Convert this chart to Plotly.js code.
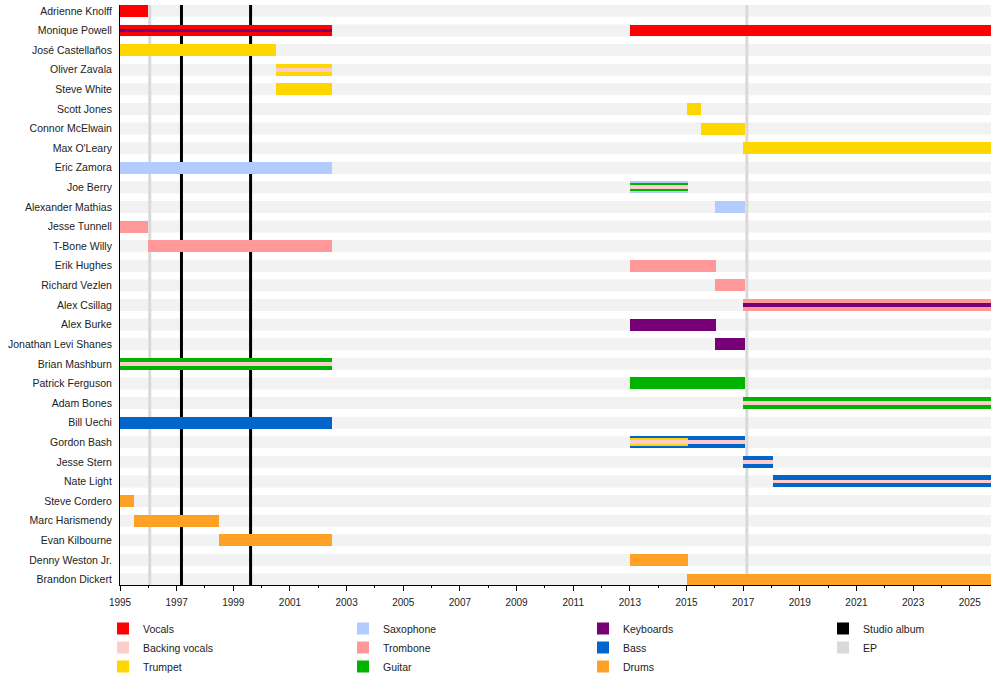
<!DOCTYPE html>
<html>
<head>
<meta charset="utf-8">
<script src="https://cdn.plot.ly/plotly-3.0.1.min.js"></script>
<style>
  html, body { margin: 0; padding: 0; background: #fff; }
  #chart { width: 1000px; height: 675px; }
</style>
</head>
<body>
<div id="chart"></div>
<script>
// band members, top to bottom
const members = ["Adrienne Knolff", "Monique Powell", "José Castellaños", "Oliver Zavala", "Steve White",
    "Scott Jones", "Connor McElwain", "Max O'Leary", "Eric Zamora", "Joe Berry", "Alexander Mathias",
    "Jesse Tunnell", "T-Bone Willy", "Erik Hughes", "Richard Vezlen", "Alex Csillag", "Alex Burke",
    "Jonathan Levi Shanes", "Brian Mashburn", "Patrick Ferguson", "Adam Bones", "Bill Uechi", "Gordon Bash",
    "Jesse Stern", "Nate Light", "Steve Cordero", "Marc Harismendy", "Evan Kilbourne", "Denny Weston Jr.",
    "Brandon Dickert"];

const roles = ["Vocals", "Backing vocals", "Trumpet", "Saxophone", "Trombone", "Guitar", "Keyboards", "Bass", "Drums"];
const roleColors = ["#ff0000", "#ffcccc", "#ffd700", "#b3ccff", "#ff9999", "#00b300", "#770077", "#0066cc", "#ffa126"];

const today = 2025.75;

// one entry per stint: who, from, to, roles (main role first)
const periodMember = ["Adrienne Knolff", "Monique Powell", "Monique Powell", "José Castellaños", "Oliver Zavala",
    "Steve White", "Scott Jones", "Connor McElwain", "Max O'Leary", "Eric Zamora", "Joe Berry", "Alexander Mathias",
    "Jesse Tunnell", "T-Bone Willy", "Erik Hughes", "Richard Vezlen", "Alex Csillag", "Alex Burke",
    "Jonathan Levi Shanes", "Brian Mashburn", "Patrick Ferguson", "Adam Bones", "Bill Uechi", "Gordon Bash",
    "Gordon Bash", "Jesse Stern", "Nate Light", "Steve Cordero", "Marc Harismendy", "Evan Kilbourne",
    "Denny Weston Jr.", "Brandon Dickert"];
const periodStart = [1995, 1995, 2013, 1995, 2000.5,
    2000.5, 2015, 2015.5, 2017, 1995, 2013, 2016,
    1995, 1996, 2013, 2016, 2017, 2013,
    2016, 1995, 2013, 2017, 1995, 2013,
    2015, 2017, 2018.05, 1995, 1995.5, 1998.5,
    2013, 2015];
const periodEnd = [1996, 2002.5, today, 2000.5, 2002.5,
    2002.5, 2015.5, 2017.05, today, 2002.5, 2015.05, 2017.05,
    1996, 2002.5, 2016.05, 2017.05, today, 2016.05,
    2017.05, 2002.5, 2017.05, today, 2002.5, 2015.05,
    2017.05, 2018.05, today, 1995.5, 1998.5, 2002.5,
    2015.05, today];
const periodRoles = [["Vocals"], ["Vocals", "Keyboards"], ["Vocals"], ["Trumpet"], ["Trumpet", "Backing vocals"],
    ["Trumpet"], ["Trumpet"], ["Trumpet"], ["Trumpet"], ["Saxophone"], ["Saxophone", "Guitar", "Backing vocals"], ["Saxophone"],
    ["Trombone"], ["Trombone"], ["Trombone"], ["Trombone"], ["Trombone", "Keyboards"], ["Keyboards"],
    ["Keyboards"], ["Guitar", "Backing vocals"], ["Guitar"], ["Guitar", "Backing vocals"], ["Bass"], ["Bass", "Trumpet", "Backing vocals"],
    ["Bass", "Backing vocals"], ["Bass", "Backing vocals"], ["Bass", "Backing vocals"], ["Drums"], ["Drums"], ["Drums"],
    ["Drums"], ["Drums"]];

// releases
const studioAlbums = [1997.17, 1999.61];
const eps = [1996.05, 2017.13];

// main role full bar, last extra role thin stripe, middle role in between
const layerWidth = [0.61, 0.41, 0.2];
function layerOf(i, n) {
    if (i == 0) return 0;
    if (i == n - 1) return 2;
    return 1;
}

let traces = [];
for (let layer = 0; layer < 3; layer++) {
    roles.forEach(function (role, r) {
        let ys = [], xs = [], bases = [];
        for (let p = 0; p < periodMember.length; p++) {
            let k = periodRoles[p].indexOf(role);
            if (k < 0 || layerOf(k, periodRoles[p].length) != layer) continue;
            ys.push(periodMember[p]);
            bases.push(periodStart[p]);
            xs.push(periodEnd[p] - periodStart[p]);
        }
        if (ys.length) {
            traces.push({
                type: 'bar', orientation: 'h', y: ys, x: xs, base: bases,
                width: layerWidth[layer],
                marker: {color: roleColors[r], line: {width: 0}},
                showlegend: false, hoverinfo: 'skip'
            });
        }
    });
}

// legend entries, three per column
const legendIds = ['legend', 'legend2', 'legend3', 'legend4'];
roles.forEach(function (role, r) {
    traces.push({
        type: 'bar', orientation: 'h', x: [null], y: [null], name: role,
        marker: {color: roleColors[r], line: {width: 0}},
        legend: legendIds[Math.floor(r / 3)], showlegend: true, hoverinfo: 'skip'
    });
});
[["Studio album", "#000000"], ["EP", "#d9d9d9"]].forEach(function (e) {
    traces.push({
        type: 'bar', orientation: 'h', x: [null], y: [null], name: e[0],
        marker: {color: e[1], line: {width: 0}},
        legend: 'legend4', showlegend: true, hoverinfo: 'skip'
    });
});

// grey row stripes, then release lines, all under the bars
let shapes = [];
members.forEach(function (m, i) {
    shapes.push({type: 'rect', layer: 'below', xref: 'paper', yref: 'y', x0: 0, x1: 1,
        y0: i - 0.305, y1: i + 0.305, fillcolor: '#f2f2f2', line: {width: 0}});
});
eps.forEach(function (t) {
    shapes.push({type: 'line', layer: 'below', xref: 'x', yref: 'paper', x0: t, x1: t, y0: 0, y1: 1,
        line: {color: '#d9d9d9', width: 3}});
});
studioAlbums.forEach(function (t) {
    shapes.push({type: 'line', layer: 'below', xref: 'x', yref: 'paper', x0: t, x1: t, y0: 0, y1: 1,
        line: {color: '#000000', width: 3}});
});

const fam = 'Liberation Sans, Arial, sans-serif';
const font = {family: fam, size: 10.5, color: '#222'};
function legendAt(col) {
    return {
        xref: 'container', yref: 'container',
        x: (103 + 240 * col) / 1000, xanchor: 'left',
        y: 61 / 675, yanchor: 'top', orientation: 'v',
        bgcolor: 'rgba(0,0,0,0)', font: font, traceorder: 'normal'
    };
}

const layout = {
    width: 1000, height: 675,
    margin: {l: 120, r: 9, t: 5, b: 90, autoexpand: false},
    paper_bgcolor: '#fff', plot_bgcolor: '#fff',
    font: font,
    barmode: 'overlay',
    bargap: 0,
    hovermode: false,
    xaxis: {
        range: [1995, today], tick0: 1995, dtick: 2,
        ticks: 'outside', ticklen: 5, tickcolor: '#000', tickwidth: 1,
        minor: {dtick: 1, ticks: 'outside', ticklen: 2, tickcolor: '#000'},
        showline: true, linecolor: '#000', linewidth: 1,
        showgrid: false, zeroline: false, ticklabelstandoff: 3,
        tickfont: {family: fam, size: 10, color: '#222'}
    },
    yaxis: {
        type: 'category', categoryorder: 'array', categoryarray: members,
        range: [members.length - 1 + 0.28, -0.3],
        showline: true, linecolor: '#000', linewidth: 1,
        ticks: '', ticklabelstandoff: 5,
        showgrid: false, zeroline: false, tickfont: font
    },
    shapes: shapes,
    legend: legendAt(0),
    legend2: legendAt(1),
    legend3: legendAt(2),
    legend4: legendAt(3)
};

Plotly.newPlot("chart", traces, layout, {displayModeBar: false, staticPlot: true});
</script>
</body>
</html>
